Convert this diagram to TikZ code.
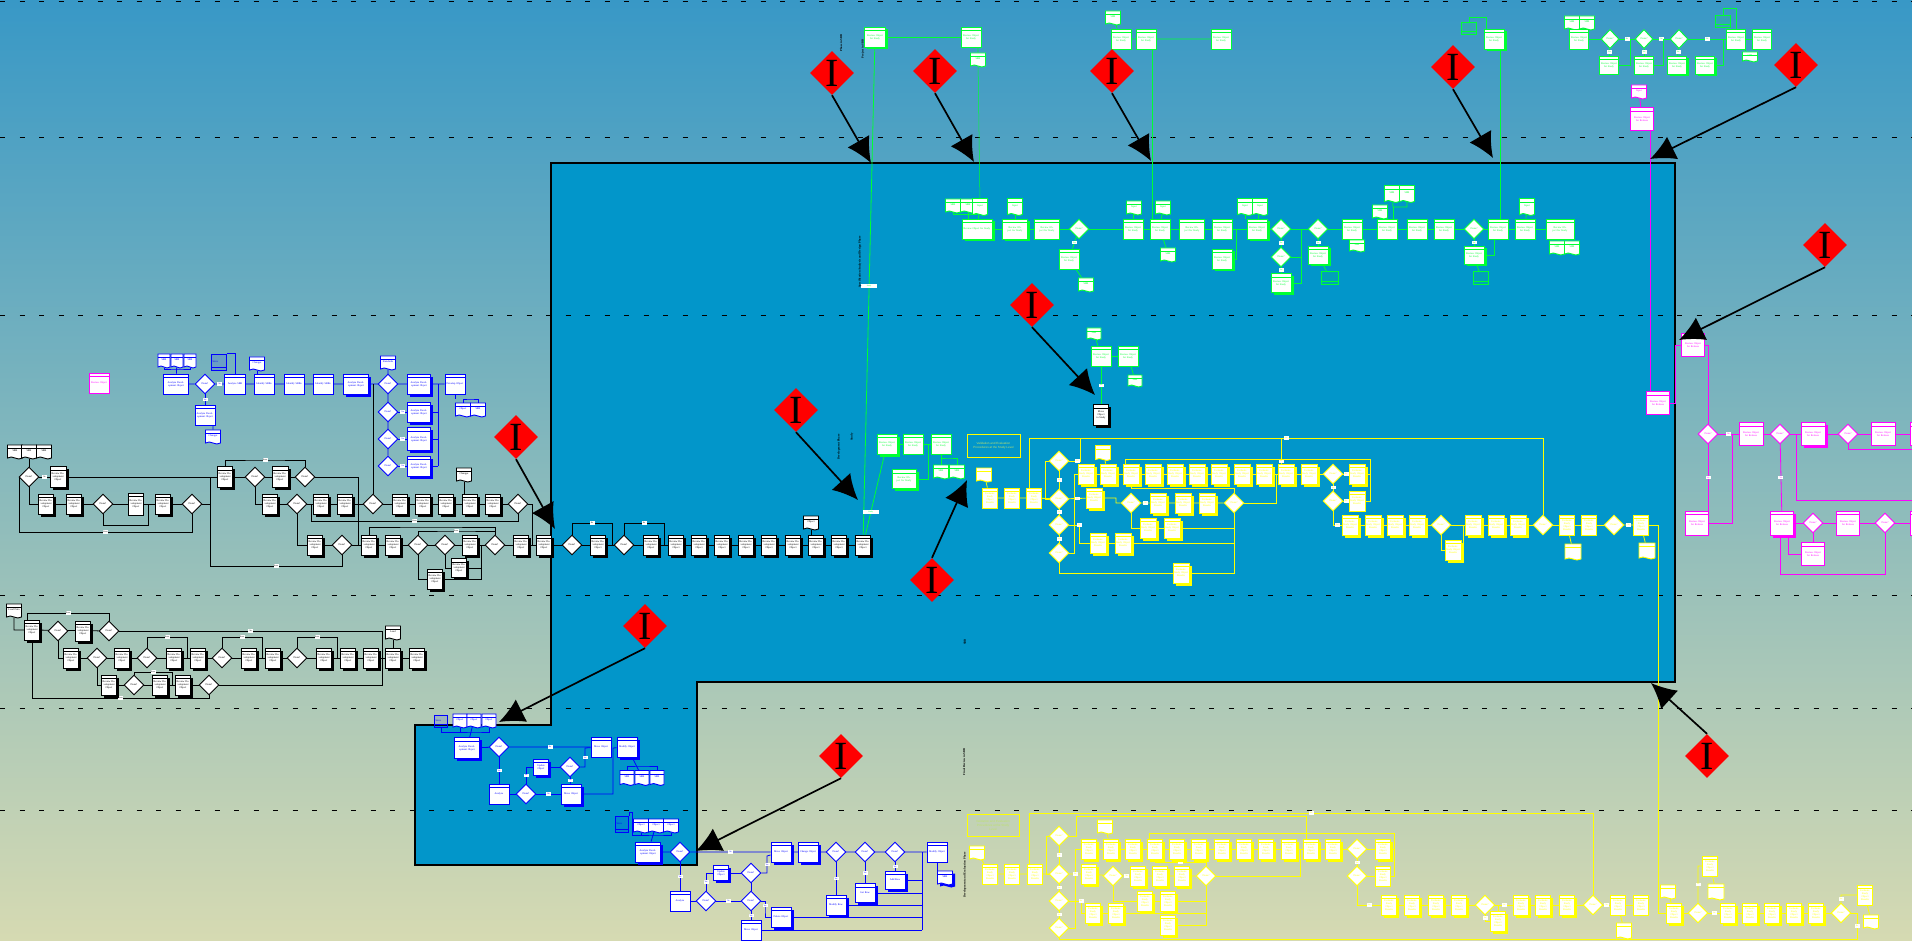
\documentclass[tikz,border=0pt]{standalone}
\usepackage{fontspec}
\setmainfont{Liberation Serif}
\newfontfamily\notefont{Liberation Sans}
\usetikzlibrary{calc, positioning, arrows.meta, shapes.geometric, shapes.symbols, shadows}
\pgfdeclarelayer{back}
\pgfdeclarelayer{wire}
\pgfsetlayers{back,wire,main}
\definecolor{stream}{RGB}{2,150,202}
\definecolor{skytop}{RGB}{56,152,198}
\definecolor{sandlow}{RGB}{214,218,178}
\definecolor{gflow}{RGB}{0,255,51}
\definecolor{yflow}{RGB}{255,255,0}
\definecolor{mflow}{RGB}{255,0,255}
\definecolor{bflow}{RGB}{0,0,255}
\newcommand{\smallf}{\fontsize{2.6}{3}\selectfont}
\newcommand{\kt}{Review Development Object}
\newcommand{\ut}{Analyze Development Object}
\newcommand{\gt}{Review Object for Study}
\newcommand{\yt}{Evaluate Study Object Results}
\newcommand{\pt}{Review Object for Release}
\tikzset{
  pb/.style={rectangle,draw=flow,fill=white,line width=.9pt,text=flow,font=\smallf,align=center,
    inner sep=.3pt,minimum width=15pt,text width=13pt,minimum height=20pt,
    path picture={\draw[flow,line width=.6pt] ([yshift=-3.5pt]path picture bounding box.north west) -- ([yshift=-3.5pt]path picture bounding box.north east);}},
  sz/.style 2 args={minimum width=#1pt,text width={#1pt-2pt},minimum height=#2pt},
  sdw/.style={general shadow={fill=flow,shadow xshift=2.5pt,shadow yshift=-2.5pt}},
  doc/.style={pb,shape=tape,tape bend top=none,tape bend bottom=out and in,tape bend height=2pt,minimum height=14pt},
  store/.style={rectangle,draw=flow,fill=flow,fill opacity=.1,text opacity=1,draw opacity=1,line width=.9pt,text=flow,font=\smallf,
    inner sep=.3pt,minimum width=14pt,minimum height=13pt,
    path picture={\draw[flow,opacity=1,line width=.7pt] ([yshift=3pt]path picture bounding box.south west) -- ([yshift=3pt]path picture bounding box.south east);}},
  dc/.style={diamond,draw=flow,fill=white,line width=.9pt,text=flow,font=\smallf,align=center,inner sep=0pt,aspect=1,minimum width=20pt,minimum height=20pt},
  tag/.style={fill=white,text=flow,inner sep=.3pt,font=\fontsize{2}{2.4}\selectfont,minimum width=5pt,minimum height=3.5pt},
  ln/.style={draw=flow,line width=.8pt},
  note/.style={rectangle,draw=yflow,line width=1pt,inner sep=0pt,text={rgb,255:red,190;green,225;blue,110},align=center,font=\notefont\fontsize{3}{4}\selectfont},
  warn/.style={diamond,fill=red,aspect=1,minimum width=44pt,minimum height=44pt,inner sep=0pt,font=\fontsize{40}{40}\selectfont},
  sidetxt/.style={rotate=90,font=\bfseries\fontsize{3}{3.4}\selectfont,inner sep=0pt},
  bigarrow/.style={line width=1.7pt,-{Latex[length=25pt,width=25pt]}},
}
\begin{document}
\begin{tikzpicture}[x=1pt,y=-1pt]
\useasboundingbox (0,0) rectangle (1912,941);
\begin{pgfonlayer}{back}
  \fill[top color=skytop,bottom color=sandlow] (0,0) rectangle (1912,941);
  \fill[stream,draw=black,line width=2pt] (551,163) -- (1675,163) -- (1675,682) -- (697,682) -- (697,865) -- (415,865) -- (415,725) -- (551,725) -- cycle;
  \foreach \y in {2,138,316,595,708,810}
    \draw[line width=1pt,dash pattern=on 5pt off 14.5pt] (0,\y) -- (1912,\y);
\end{pgfonlayer}

% pink loose box
\begin{scope}
\colorlet{flow}{mflow}
\node[pb,sz={20}{20}] (ploose) at (99,383) {Review Object};
\end{scope}

% blue, upper
\begin{scope}
\colorlet{flow}{bflow}
\foreach \x in {164,177,190} \node[doc,sz={12}{14}] (ud\x) at (\x,360) {SBB};
\node[pb,sz={25}{20}] (ua176) at (176,384) {\ut};
\node[dc] (ua205) at (205,384) {Done?};
\node[pb,sz={21}{20}] (ua235) at (235,384) {Analyze SBB};
\node[store,sz={15}{16}] (us219) at (219,362) {Store};
\node[doc,sz={15}{14}] (ud257) at (257,363) {Changes};
\foreach \x in {264,294,323} \node[pb,sz={20}{20}] (ua\x) at (\x,384) {Identify SBBs};
\node[pb,sdw,sz={25}{20}] (ua356) at (356,384) {\ut};
\node[dc] (ua388) at (388,384) {Done?};
\node[doc] (ud388) at (388,362) {Standards};
\node[dc] (uq412) at (388,412) {Done?};
\node[dc] (uq439) at (388,439) {Done?};
\node[dc] (uq466) at (388,466) {Done?};
\node[pb,sdw,sz={23}{20}] (ua419) at (419,384) {\ut};
\node[pb,sdw,sz={23}{20}] (ub412) at (419,412) {\ut};
\node[pb,sdw,sz={23}{23}] (ub439) at (419,439) {\ut};
\node[pb,sdw,sz={23}{20}] (ub466) at (419,466) {\ut};
\node[pb,sz={20}{20}] (ua455) at (455,384) {Develop Object};
\node[doc] (ud463) at (463,409) {Object};
\node[doc] (ud478) at (478,409) {SBB};
\node[pb,sz={20}{20}] (up205) at (205,415) {\ut};
\node[doc] (ud213) at (213,436) {Changes};
\coordinate (uj1) at (438,384);
\coordinate (uj2) at (438,466);
\coordinate (uj3) at (470,399);
\begin{pgfonlayer}{wire}
  \draw[ln] (ud177) -- (ua176) -- (ua205) -- node[tag]{No} (ua235) -- (ua455);
  \draw[ln] (ud164) |- ($(ud177)+(0,9)$) -| (ud190);
  \draw[ln] (us219.north east) -| (ua235);
  \draw[ln] (ua205) -- node[tag]{Yes} (up205);
  \draw[ln] (ud213) -- (ud213 |- up205.south);
  \draw[ln] (ud257) -- (ud257 |- ua264.north);
  \draw[ln] (ud388) -- (uq466);
  \draw[ln] (uq412) -- node[tag]{Yes} (ub412);
  \draw[ln] (uq439) -- node[tag]{Yes} (ub439);
  \draw[ln] (uq466) -- node[tag]{Yes} (ub466);
  \draw[ln] (uj1) -- (uj2);
  \draw[ln] (ub412) -- (ub412 -| uj1);
  \draw[ln] (ub439) -- (ub439 -| uj1);
  \draw[ln] (ub466) -- (uj2);
  \draw[ln] (ua455) -- (ua455 |- uj3);
  \draw[ln] (ud463) |- (uj3) -| (ud478);
\end{pgfonlayer}
\end{scope}

% black, upper block and long row
\begin{scope}
\colorlet{flow}{black}
\foreach \x in {15,29,44} \node[doc] (kd\x) at (\x,451) {SBB};
\node[dc] (ka29) at (29,477) {Done?};
\node[pb,sdw,sz={16}{21}] (ka58) at (58,477) {\kt};
\node[pb,sdw,sz={15}{21}] (ka225) at (225,477) {\kt};
\node[dc] (ka255) at (255,477) {Done?};
\node[pb,sdw,sz={16}{21}] (ka280) at (280,477) {\kt};
\node[dc] (ka305) at (305,477) {Done?};
\foreach \x in {46,74,163,270,321,345,400,423,446,470,493} \node[pb,sdw] (kb\x) at (\x,504) {\kt};
\node[pb,sz={15}{22}] (kb136) at (136,504) {\kt};
\foreach \x in {103,192,297,373,518} \node[dc] (kb\x) at (\x,504) {Done?};
\foreach \x in {315,369,393,470,521,544,598,651,676,699,722,746,769,793,816,839,863} \node[pb,sdw] (kc\x) at (\x,545) {\kt};
\foreach \x in {342,418,445,495,572,624} \node[dc] (kc\x) at (\x,545) {Done?};
\node[pb,sdw,sz={15}{19}] (kn459) at (459,568) {\kt};
\node[pb,sdw] (kn435) at (435,579) {\kt};
\node[doc] (kt464) at (464,474) {Changes};
\node[doc] (kt811) at (811,522) {Object};
\node[pb,sdw,sz={15}{21}] (kz1101) at (1101,415) {Move Object to Study};
\coordinate (kj1) at (210,566);
\coordinate (kj2) at (19,532);
\coordinate (kj3) at (148,525);
\coordinate (kj4) at (265,460);
\coordinate (kj5) at (358,545);
\coordinate (kj6) at (532,545);
\coordinate (kj7) at (311,521);
\coordinate (kj8) at (430,527);
\coordinate (kj9) at (456,531);
\coordinate (kj10) at (481,579);
\coordinate (kj11) at (612,523);
\coordinate (kj12) at (664,523);
\begin{pgfonlayer}{wire}
  \draw[ln] (kd29) -- (ka29) -- node[tag]{No} (ka58) -- (ka225) -- (ka255) -- (ka280) -- (ka305);
  \draw[ln] (ka29) |- (kb46) -- (kb192);
  \draw[ln] (ka225) -| (kj1) -| node[tag,pos=.25]{Done} (kc342);
  \draw[ln] (kb192) -- (kb192 -| kj1);
  \draw[ln] (ka29) -| (kj2) -| node[tag,pos=.25]{Done} (kb192);
  \draw[ln] (kb103) |- (kj3) -- (kj3 |- kb136);
  \draw[ln] (ka225) |- (kj4) node[tag]{Done} -| (ka305);
  \draw[ln] (ka255) |- (kb270) -- (kb518);
  \draw[ln] (kb297) |- (kc315) -- (kc863);
  \draw[ln] (ka305) -| (kj5);
  \draw[ln] (kb518) -| (kj6);
  \draw[ln] (kb518) |- node[tag,pos=.75]{Done} (kj7) -- (kj7 |- kb321);
  \draw[ln] (kc369) |- (kj8) -| (kc495);
  \draw[ln] (kc418) |- (kj9) node[tag]{Done} -| (kc495);
  \draw[ln] (kc418) |- (kn435);
  \draw[ln] (kc445) |- (kn459);
  \draw[ln] (kn435) -- (kj10) -- (kj10 |- kc470);
  \draw[ln] (kn459) -- (kn459 -| kj10);
  \draw[ln] (kt464) -- (kt464 |- kb470.north);
  \draw[ln] (kt811) -- (kt811 |- kc816.north);
  \draw[ln] (kc572) |- node[tag,pos=.75]{No} (kj11) -- (kj11 |- kc598);
  \draw[ln] (kc624) |- node[tag,pos=.75]{No} (kj12) -- (kj12 |- kc651);
  \draw[ln] (kb373) -- (kb373 |- ua356);
\end{pgfonlayer}
\end{scope}

% black, lower block
\begin{scope}
\colorlet{flow}{black}
\node[doc] (md14) at (14,610) {Load Data};
\node[pb,sdw] (ma32) at (32,630) {\kt};
\node[dc] (ma58) at (58,631) {Done?};
\node[pb,sdw] (ma83) at (83,631) {\kt};
\node[dc] (ma109) at (109,631) {Done?};
\foreach \x in {71,122,174,198,249,273,324,348,371,393,417} \node[pb,sdw] (mb\x) at (\x,658) {\kt};
\foreach \x in {97,147,222,297} \node[dc] (mb\x) at (\x,658) {Done?};
\node[doc] (md393) at (393,632) {Load};
\foreach \x in {109,160,183} \node[pb,sdw] (mc\x) at (\x,685) {\kt};
\foreach \x in {134,209} \node[dc] (mc\x) at (\x,685) {Done?};
\coordinate (mj1) at (382,685);
\coordinate (mj2) at (27,613);
\coordinate (mj3) at (187,637);
\coordinate (mj4) at (262,637);
\coordinate (mj5) at (337,637);
\coordinate (mj6) at (172,672);
\coordinate (mj7) at (32,698);
\begin{pgfonlayer}{wire}
  \draw[ln] (md14) |- (ma32) -- (ma109);
  \draw[ln] (mj2) -- (mj2 |- ma32);
  \draw[ln] (mj2) -| node[tag,pos=.25]{Done} (ma109);
  \draw[ln] (ma109) -| node[tag,pos=.25]{No} (mj1) -- (mc209);
  \draw[ln] (ma58) |- (mb71) -- (mb417);
  \draw[ln] (mb97) |- (mc109) -- (mc209);
  \draw[ln] (mb147) |- node[tag,pos=.75]{Done} (mj3) -- (mj3 |- mb174);
  \draw[ln] (mb222) |- node[tag,pos=.75]{Done} (mj4) -- (mj4 |- mb249);
  \draw[ln] (mb297) |- node[tag,pos=.75]{Done} (mj5) -- (mj5 |- mb324);
  \draw[ln] (mc134) |- node[tag,pos=.75]{Done} (mj6) -- (mj6 |- mc160);
  \draw[ln] (ma32) -- (mj7) -| node[tag,pos=.25]{Done} (mc209);
  \draw[ln] (md393) -- (mb393);
\end{pgfonlayer}
\end{scope}

% blue, lower blocks
\begin{scope}
\colorlet{flow}{bflow}
\node[store,sz={13}{12}] (vs441) at (441,721) {Store};
\foreach \x in {460,474,489} \node[doc,sz={14}{14}] (vd\x) at (\x,720) {Object};
\node[pb,sdw,sz={25}{21}] (va467) at (467,748) {\ut};
\node[dc] (va499) at (499,747) {Done?};
\node[pb,sz={20}{20}] (va601) at (601,747) {Move Object};
\node[pb,sdw,sz={20}{20}] (va627) at (627,747) {Modify Object};
\node[pb,sz={20}{20}] (vb499) at (499,794) {Analyze};
\node[dc] (vb526) at (526,794) {Done?};
\node[pb,sdw,sz={20}{20}] (vb571) at (571,794) {Move Object};
\node[pb,sdw,sz={15}{16}] (vc541) at (541,767) {Update Object};
\node[dc] (vc570) at (570,767) {Done?};
\foreach \x in {627,642,657} \node[doc,sz={14}{15}] (vd\x) at (\x,777) {SBB};
\node[store,sz={13}{16}] (ws622) at (622,824) {Store};
\foreach \x in {641,656,671} \node[doc] (wd\x) at (\x,825) {Object};
\node[pb,sdw,sz={25}{20}] (wa648) at (648,852) {\ut};
\node[dc] (wa680) at (680,852) {Done?};
\node[pb,sdw,sz={20}{20}] (wa781) at (781,852) {Move Object};
\node[pb,sdw,sz={20}{20}] (wa808) at (808,852) {Change Object};
\foreach \x in {836,865,895} \node[dc] (wa\x) at (\x,852) {Done?};
\node[pb,sz={20}{20}] (wa937) at (937,852) {Modify Object};
\node[doc,sdw] (wd945) at (945,877) {SBB};
\node[pb,sz={20}{20}] (wb680) at (680,901) {Analyze};
\node[dc] (wb706) at (706,901) {Done?};
\node[dc] (wb751) at (751,901) {Done?};
\node[pb,sdw,sz={15}{15}] (wc721) at (721,873) {Update Object};
\node[dc] (wc751) at (751,873) {Done?};
\node[pb,sz={20}{20}] (wd751) at (751,930) {Move Object};
\node[pb,sdw,sz={20}{20}] (we781) at (781,917) {Delete Object};
\node[pb,sdw,sz={20}{20}] (we836) at (836,905) {Modify Row};
\node[pb,sdw,sz={20}{19}] (we865) at (865,893) {Get Row};
\node[pb,sdw,sz={20}{18}] (we895) at (895,880) {Add Row};
\coordinate (vj1) at (585,748);
\coordinate (vj2) at (613,748);
\coordinate (wj1) at (922,852);
\coordinate (wj2) at (922,930);
\coordinate (wj3) at (767,856);
\coordinate (wj4) at (765,910);
\begin{pgfonlayer}{wire}
  \draw[ln] (vd474) -- (va467) -- (va499) -- node[tag]{No} (va601);
  \draw[ln] (vd460) |- ($(vd474)+(0,12)$) -| (vd489);
  \draw[ln] (vs441) |- ($(vd460)+(0,12)$);
  \draw[ln] (va499) -- node[tag]{Yes} (vb499) -- (vb526) -- node[tag]{No} (vb571);
  \draw[ln] (vb526) |- node[tag,pos=.25]{Yes} (vc541) -- (vc570);
  \draw[ln] (vc570) -- node[tag]{No} (vb571);
  \draw[ln] (vc570) -| node[tag,pos=.75]{Yes} (vj1) -- (va601);
  \draw[ln] (vb571) -| (vj2) -- (va627);
  \draw[ln] (va627) -- (vd642);
  \draw[ln] (vd627) |- ($(vd642)+(0,-11)$) -| (vd657);
  \draw[ln] (wd656) -- (wa648) -- (wa680) -- node[tag]{No} (wa781) -- (wa937);
  \draw[ln] (wd641) |- ($(wd656)+(0,10)$) -| (wd671);
  \draw[ln] (ws622.north east) |- ($(ws622)+(10,-12)$) |- ($(wd641)+(0,10)$);
  \draw[ln] (wa680) -- node[tag]{Yes} (wb680) -- (wb706) -- node[tag]{No} (wb751);
  \draw[ln] (wb706) |- node[tag,pos=.25]{Yes} (wc721) -- (wc751);
  \draw[ln] (wc751) -- (wb751) -- node[tag]{Yes} (wd751);
  \draw[ln] (wc751) -| node[tag,pos=.75]{Yes} (wj3) -- (wa781);
  \draw[ln] (wb751) -| node[tag,pos=.75]{Yes} (wj4) |- (we781);
  \draw[ln] (wa836) -- node[tag]{Yes} (we836);
  \draw[ln] (wa865) -- node[tag]{Yes} (we865);
  \draw[ln] (wa895) -- node[tag]{Yes} (we895);
  \draw[ln] (wj1) -- (wj2);
  \draw[ln] (we781) -- (we781 -| wj1);
  \draw[ln] (we836) -- (we836 -| wj1);
  \draw[ln] (we865) -- (we865 -| wj1);
  \draw[ln] (we895) -- (we895 -| wj1);
  \draw[ln] (wd751) -- (wj2);
  \draw[ln] (wa937) -- (wa937 |- wd945.north);
\end{pgfonlayer}
\end{scope}

% green
\begin{scope}
\colorlet{flow}{gflow}
\node[pb,sdw,sz={21}{20}] (ga875) at (875,37) {\gt};
\node[pb,sz={20}{20}] (ga971) at (971,37) {\gt};
\node[doc] (gd978) at (978,59) {SBB};
\node[doc] (gd1113) at (1113,17) {SBB};
\foreach \x in {1121,1146,1221} \node[pb,sz={20}{20}] (ga\x) at (\x,39) {\gt};
\node[store,sz={15}{12}] (gs1469) at (1469,28) {};
\node[pb,sdw,sz={20}{20}] (ga1494) at (1494,39) {\gt};
\foreach \x in {1572,1587} \node[doc] (gt\x) at (\x,22) {SBB};
\node[pb,sz={19}{20}] (ga1579) at (1579,39) {\gt};
\foreach \x in {1610,1644,1679} \node[dc,sz={18}{19}] (ga\x) at (\x,39) {Done?};
\node[store,sz={15}{12}] (gs1723) at (1723,21) {};
\foreach \x in {1736,1762} \node[pb,sz={19}{20}] (ga\x) at (\x,39) {\gt};
\node[doc,sz={15}{10}] (gd1750) at (1750,56) {SBB};
\foreach \x in {1609,1644} \node[pb,sz={19}{18}] (gb\x) at (\x,65) {\gt};
\foreach \x in {1677,1705} \node[pb,sdw,sz={19}{18}] (gb\x) at (\x,65) {\gt};
% mid row
\foreach \x in {953,968} \node[doc] (gd\x) at (\x,205) {SBB};
\foreach \x in {980,1015,1245,1260,1527} \node[doc,sz={15}{17}] (gd\x) at (\x,206) {Input};
\foreach \x in {1134,1163} \node[doc] (gd\x) at (\x,207) {Input};
\node[pb,sdw,sz={30}{20}] (gc977) at (977,229) {\gt};
\node[pb,sdw,sz={25}{20}] (gc1015) at (1015,229) {\gt};
\node[pb,sz={25}{20}] (gc1047) at (1047,229) {\gt};
\node[dc] (gc1079) at (1079,229) {Done?};
\node[pb,sz={20}{20}] (ge1069) at (1069,259) {\gt};
\node[doc] (gd1086) at (1086,284) {SBB};
\foreach \x in {1133,1160,1222} \node[pb,sz={20}{20}] (gc\x) at (\x,229) {\gt};
\node[doc] (gd1168) at (1168,254) {SBB};
\node[pb,sz={25}{20}] (gc1192) at (1192,229) {\gt};
\node[pb,sdw,sz={20}{20}] (ge1222) at (1222,259) {\gt};
\node[pb,sdw,sz={20}{20}] (gc1257) at (1257,229) {\gt};
\node[dc] (gc1281) at (1281,229) {Done?};
\node[dc] (ge1281) at (1281,257) {Done?};
\node[pb,sdw,sz={20}{19}] (gf1281) at (1281,283) {\gt};
\node[dc] (gc1318) at (1318,229) {Done?};
\node[pb,sdw,sz={20}{18}] (ge1318) at (1318,255) {\gt};
\node[store,sz={17}{13}] (gs1330) at (1330,278) {};
\node[pb,sz={20}{20}] (gc1352) at (1352,229) {\gt};
\node[doc,sz={15}{12}] (gd1357) at (1357,245) {SBB};
\foreach \x in {1387,1417,1444,1498,1525} \node[pb,sz={20}{20}] (gc\x) at (\x,229) {\gt};
\node[dc] (gc1474) at (1474,229) {Done?};
\node[pb,sdw,sz={20}{18}] (ge1474) at (1474,255) {\gt};
\node[store,sz={15}{13}] (gs1481) at (1481,278) {};
\node[pb,sz={28}{20}] (gc1560) at (1560,229) {\gt};
\foreach \x in {1392,1407} \node[doc,sz={15}{17}] (gd\x) at (\x,193) {SBB};
\node[doc] (gd1380) at (1380,211) {SBB};
\foreach \x in {1557,1572} \node[doc] (gd\x) at (\x,247) {SBB};
% lower blue field
\node[pb,sdw,sz={20}{20}] (gh887) at (887,444) {\gt};
\node[pb,sz={20}{20}] (gh913) at (913,444) {\gt};
\node[pb,sz={20}{20}] (gh941) at (941,444) {\gt};
\node[pb,sdw,sz={24}{19}] (gh904) at (904,479) {\gt};
\foreach \x in {941,957} \node[doc] (gd\x) at (\x,471) {SBB};
% field group near I
\node[doc,sz={14}{12}] (gd1094) at (1094,333) {SBB};
\node[pb,sz={20}{20}] (gk1101) at (1101,356) {\gt};
\node[pb,sz={20}{20}] (gk1128) at (1128,356) {\gt};
\node[doc,sz={14}{12}] (gd1135) at (1135,380) {SBB};
\coordinate (gj1) at (1301,229);
\coordinate (gj2) at (1236,229);
\coordinate (gj3) at (1494,229);
\coordinate (gj4) at (1393,207);
\coordinate (gj5) at (928,444);
\coordinate (gj6) at (949,458);
\coordinate (gj7) at (1486,17);
\coordinate (gj8) at (1736,8);
\coordinate (gj9) at (1630,65);
\coordinate (gj10) at (1663,65);
\coordinate (gj11) at (1723,65);
\coordinate (gj12) at (1152,39);
\coordinate (gj13) at (1500,39);
\begin{pgfonlayer}{wire}
  \draw[ln] (ga875) -- (ga971);
  \draw[ln] (gd978) -- (gd978 |- ga971.south);
  \draw[ln] (ga875) -- node[tag,pos=.49,minimum width=16pt]{Study} (kc863);
  \draw[ln] (gh887) -- node[tag,pos=.72,minimum width=16pt]{Study} (kc863);
  \draw[ln,line width=.5pt] (gd978) -- (gd980);
  \draw[ln] (gd1113) -- (ga1121) -- (ga1221);
  \draw[ln,line width=.5pt] (gj12) -- (gj12 |- gc1160);
  \draw[ln,line width=.5pt] (gj13) -- (gj13 |- gc1498);
  \draw[ln] (gs1469) |- (gj7) -- (ga1494.north -| gj7);
  \draw[ln] (gt1572) -- (ga1579);
  \draw[ln] (ga1579) -- (ga1610) -- node[tag]{No} (ga1644) -- node[tag]{No} (ga1679) -- node[tag]{No} (ga1736) -- (ga1762);
  \draw[ln] (ga1610) -- node[tag]{Yes} (gb1609);
  \draw[ln] (ga1644) -- node[tag]{Yes} (gb1644);
  \draw[ln] (ga1679) -- node[tag]{Yes} (gb1677);
  \draw[ln] (gb1609) -- (gj9) -- (gj9 |- ga1610);
  \draw[ln] (gb1644) -- (gj10) -- (gj10 |- ga1610);
  \draw[ln] (gb1705) -- (gj11) -- (gj11 |- ga1610);
  \draw[ln] (gs1723) |- (gj8) -| (ga1736);
  \draw[ln] (ga1736) -- (gd1750);
  \draw[ln] (gc977) -- (gc1560);
  \draw[ln] (gd953) |- ($(gc977)+(0,-15)$);
  \draw[ln] (gd968) -- (gd968 |- gc977.north);
  \draw[ln] (gd980) -- (gc977);
  \draw[ln] (gd1015) -- (gc1015);
  \draw[ln] (gc1079) -- node[tag]{Yes} (ge1069) -- (gd1086);
  \draw[ln] (gd1134) -- (gc1133);
  \draw[ln] (gd1163) -- (gc1160) -- (gd1168);
  \draw[ln] (ge1222) -| (gj2);
  \draw[ln] (gd1245) -- (gd1245 |- gc1257.north);
  \draw[ln] (gd1260) -- (gc1257);
  \draw[ln] (gc1281) -- node[tag]{Yes} (ge1281) -- node[tag]{Yes} (gf1281);
  \draw[ln] (ge1281) -- (ge1281 -| gj1);
  \draw[ln] (gf1281) -| (gj1);
  \draw[ln] (gc1318) -- node[tag]{Yes} (ge1318);
  \draw[ln] (ge1318) -- (gs1330);
  \draw[ln] (gc1352) -- (gd1357);
  \draw[ln] (gd1392) -- (gj4) -- (gj4 -| gd1407) -- (gd1407);
  \draw[ln] (gj4) -- (gj4 |- gc1387.north);
  \draw[ln] (gd1380) -- (gc1387);
  \draw[ln] (gc1474) -- node[tag]{Yes} (ge1474);
  \draw[ln] (ge1474) -| (gj3);
  \draw[ln] (ge1474) -- (gs1481);
  \draw[ln] (gc1525) -- (gd1527);
  \draw[ln] (gc1560) -- (gd1557);
  \draw[ln] (gc1560) -- (gd1572);
  \draw[ln] (gh887) -- (gh941);
  \draw[ln] (gh904) -| (gj5);
  \draw[ln] (gh941) -- (gh941 |- gj6);
  \draw[ln] (gd941) |- (gj6) -| (gd957);
  \draw[ln] (gd1094) -- (gk1101);
  \draw[ln] (gk1101) -- (gk1128);
  \draw[ln] (gk1128) -- (gd1135);
  \draw[ln] (gk1101) -- node[tag]{Yes} (kz1101);
\end{pgfonlayer}
\end{scope}

% yellow, in the field
\begin{scope}
\colorlet{flow}{yflow}
\node[note,minimum width=53pt,minimum height=23pt] (yn1) at (993.5,445.5) {Validation and Evaluation\\Procedures at the Study Level};
\node[doc] (yd984) at (984,474) {};
\foreach \x in {990,1012,1034} \node[pb] (yb\x) at (\x,498) {\yt};
\foreach \y in {461,499,525,553} \node[dc] (yq\y) at (1059,\y) {Done?};
\foreach \x in {1086,1108,1131,1153,1175,1197,1219,1242,1264,1286,1309} \node[pb,sdw,sz={16}{20}] (ya\x) at (\x,474) {\yt};
\node[dc] (ya1333) at (1333,474) {Done?};
\node[dc] (yc1333) at (1333,501) {Done?};
\node[pb,sdw,sz={16}{20}] (ya1357) at (1357,474) {\yt};
\node[pb,sz={16}{20}] (yc1357) at (1357,501) {\yt};
\node[doc,sz={15}{15}] (yd1103) at (1103,452) {};
\node[pb,sdw,sz={16}{20}] (yc1094) at (1094,498) {\yt};
\node[dc] (yc1131) at (1131,503) {Done?};
\foreach \x in {1158,1183,1207} \node[pb,sdw,sz={16}{20}] (yc\x) at (\x,503) {\yt};
\node[dc] (yc1234) at (1234,503) {Done?};
\foreach \x in {1148,1172} \node[pb,sdw,sz={16}{20}] (ye\x) at (\x,528) {\yt};
\foreach \x in {1098,1123} \node[pb,sdw,sz={16}{20}] (yf\x) at (\x,543) {\yt};
\node[pb,sdw,sz={16}{20}] (yg1181) at (1181,573) {\yt};
\foreach \x in {1350,1373,1395,1417,1473,1496,1518} \node[pb,sdw,sz={16}{20}] (yh\x) at (\x,525) {\yt};
\foreach \x in {1441,1543,1614} \node[dc] (yh\x) at (\x,525) {Done?};
\foreach \x in {1567,1589,1641} \node[pb,sz={15}{20}] (yh\x) at (\x,525) {\yt};
\node[pb,sdw,sz={16}{20}] (yi1453) at (1453,550) {\yt};
\node[doc,sz={16}{16}] (yd1573) at (1573,551) {};
\node[doc,sz={16}{16}] (yd1647) at (1647,550) {};
\coordinate (yj1) at (1029,438);
\coordinate (yj2) at (1543,438);
\coordinate (yj3) at (1080,438);
\coordinate (yj4) at (1281,438);
\coordinate (yj5) at (1125,459);
\coordinate (yj6) at (1370,459);
\coordinate (yj7) at (1045,461);
\coordinate (yj8) at (1074,553);
\coordinate (yj9) at (1276,503);
\coordinate (yj10) at (1079,525);
\coordinate (yj11) at (1234,488);
\coordinate (yj12) at (1463,540);
\coordinate (yj13) at (1658,525);
\begin{pgfonlayer}{wire}
  \draw[ln] (yd984) -- (yb990) -- (yb1034);
  \draw[ln] (yb1034) -- (yq499);
  \draw[ln] (yj1 |- yb1034.north) -- (yj1);
  \draw[ln] (yj1) -- node[tag,pos=.5]{Yes} (yj2) -- (yh1543);
  \draw[ln] (yq461) -| (yj7) |- (yq499);
  \draw[ln] (yq461) -- node[tag,pos=.75]{No} (yq461 -| yj3) -- (yj3);
  \draw[ln] (yq461) -- node[tag]{Yes} (yq499) -- node[tag]{Yes} (yq525) -- node[tag]{Yes} (yq553);
  \draw[ln] (yj4) -- node[tag,pos=.9]{No} (yj4 |- ya1286.north);
  \draw[ln] (yq553) -| (yj8 |- ya1086) -- (ya1086) -- (yc1357 |- ya1086);
  \draw[ln] (ya1333) -- node[tag]{No} (ya1357);
  \draw[ln] (yc1333) -- node[tag]{No} (yc1357) -| (yj6) -- (yj5) -- (yj5 |- ya1131.north);
  \draw[ln] (ya1357) -| (yj6);
  \draw[ln] (yd1103) -- (ya1108);
  \draw[ln] (ya1333) -- node[tag]{Yes} (yc1333);
  \draw[ln] (yc1333) |- node[tag,pos=.75]{Yes} (yh1350) -- (yh1614);
  \draw[ln] (yq499) -- node[tag]{No} (yc1094) -| ($(yc1131)+(-15,0)$) -- (yc1131) -- node[tag]{No} (yc1158) -- (yc1234);
  \draw[ln] (yc1234) -| (yj9) -- (yj9 |- ya1086);
  \draw[ln] (ya1131.south) |- (yj11) -- (yc1234);
  \draw[ln] (yc1131) |- (ye1148) -- (ye1172) -- (ye1172 -| yc1234);
  \draw[ln] (yq525) -| node[tag,pos=.7]{No} (yj10) |- (yf1098) -- (yf1123) -- (yf1123 -| yc1234);
  \draw[ln] (yq553) |- (yg1181);
  \draw[ln] (yg1181) -| (yc1234);
  \draw[ln] (yh1441) |- (yi1453);
  \draw[ln] (yi1453) -| (yj12 |- yh1473) -- (yh1473);
  \draw[ln] (yh1567) -- (yd1573);
  \draw[ln] (yh1614) -- node[tag]{No} (yh1641) -- (yd1647);
  \draw[ln] (yh1641) -- (yj13);
\end{pgfonlayer}
\end{scope}

% yellow, lower
\begin{scope}
\colorlet{flow}{yflow}
\node[note,minimum width=52pt,minimum height=22pt] (zn1) at (993,825) {Validation and Evaluation\\Procedures at the Study\\Level};
\node[doc] (zd977) at (977,852) {};
\foreach \x in {990,1012,1035} \node[pb] (zb\x) at (\x,874) {\yt};
\foreach \y in {836,874,901,928} \node[dc] (zq\y) at (1059,\y) {Done?};
\foreach \x in {1089,1111,1133,1155,1177,1199,1222,1244,1266,1289,1311,1333} \node[pb,sdw] (za\x) at (\x,849) {\yt};
\node[dc] (za1357) at (1357,849) {Done?};
\node[dc] (zc1357) at (1357,876) {Done?};
\node[pb,sdw] (za1383) at (1383,849) {\yt};
\node[pb] (zc1383) at (1383,876) {\yt};
\node[doc] (zd1105) at (1105,826) {};
\node[pb,sdw] (zc1089) at (1089,874) {\yt};
\node[dc] (zc1113) at (1113,876) {Done?};
\foreach \x in {1138,1160,1182} \node[pb,sdw] (zc\x) at (\x,876) {\yt};
\node[dc] (zc1206) at (1206,876) {Done?};
\foreach \x in {1145,1168} \node[pb,sdw] (ze\x) at (\x,901) {\yt};
\foreach \x in {1093,1116} \node[pb,sdw] (zf\x) at (\x,913) {\yt};
\node[pb,sdw] (zg1168) at (1168,925) {\yt};
\foreach \x in {1389,1412,1436,1459,1521,1543,1567} \node[pb,sdw] (zh\x) at (\x,905) {\yt};
\foreach \x in {1485,1593} \node[dc] (zh\x) at (\x,905) {Done?};
\foreach \x in {1618,1641} \node[pb] (zh\x) at (\x,905) {\yt};
\node[doc,sz={15}{16}] (zd1624) at (1624,930) {};
\node[pb,sdw] (zi1498) at (1498,921) {\yt};
\node[pb,sdw] (zk1674) at (1674,913) {\yt};
\node[dc] (zk1698) at (1698,913) {Done?};
\node[doc] (zd1668) at (1668,891) {};
\node[pb] (zm1710) at (1710,866) {\yt};
\node[doc,sz={16}{16}] (zd1716) at (1716,891) {};
\foreach \x in {1728,1750,1772,1794,1816} \node[pb,sdw] (zk\x) at (\x,913) {\yt};
\node[dc] (zk1841) at (1841,913) {Done?};
\node[pb] (zm1865) at (1865,895) {\yt};
\node[doc] (zd1871) at (1871,921) {};
\coordinate (zj1) at (1029,813);
\coordinate (zj2) at (1593,813);
\coordinate (zj3) at (1076,816);
\coordinate (zj4) at (1306,816);
\coordinate (zj5) at (1149,833);
\coordinate (zj6) at (1394,833);
\coordinate (zj7) at (1046,836);
\coordinate (zj8) at (1075,928);
\coordinate (zj9) at (1300,876);
\coordinate (zj10) at (1081,901);
\coordinate (zj11) at (1206,862);
\coordinate (zj12) at (1059,939);
\coordinate (zj13) at (1857,939);
\coordinate (zj14) at (1658,913);
\begin{pgfonlayer}{wire}
  \draw[ln] (zd977) -- (zb990) -- (zb1035) -- (zq874);
  \draw[ln] (zj1 |- zb1035.north) -- (zj1) -- node[tag]{Yes} (zj2) -- (zh1593);
  \draw[ln] (zq836) -| (zj3) -- (zj4) -- (zj4 |- za1289.north);
  \draw[ln] (zq836) -| (zj7) |- (zq874);
  \draw[ln] (zq836) -- node[tag]{Yes} (zq874) -- node[tag]{Yes} (zq901) -- node[tag]{Yes} (zq928);
  \draw[ln] (zq928) -| (zj8) -- (zj8 |- za1089);
  \draw[ln] (zj8 |- za1089) -- (za1383);
  \draw[ln] (zj5 |- za1155.north) -- (zj5) -- (zj6) |- (zc1383);
  \draw[ln] (za1383) -| (zj6);
  \draw[ln] (zc1357) -- (zc1383);
  \draw[ln] (za1357) -- node[tag]{Yes} (zc1357);
  \draw[ln] (zd1105) -- (za1111);
  \draw[ln] (zq874) -- node[tag]{No} (zc1089) -- (zc1113) -- node[tag]{No} (zc1138) -- (zc1206);
  \draw[ln] (zc1206) -| (zj9) -- (zj9 |- za1089);
  \draw[ln] (za1155) |- node[tag,pos=.75]{No} (zj11) -- (zc1206);
  \draw[ln] (zc1113) |- (ze1145) -- (ze1168) -- (ze1168 -| zc1206);
  \draw[ln] (zq901) -| node[tag,pos=.7]{No} (zj10) |- (zf1093) -- (zf1116) -- (zf1116 -| zc1206);
  \draw[ln] (zg1168) -| (zc1206);
  \draw[ln] (zc1357) |- node[tag,pos=.75]{Yes} (zh1389) -- (zh1485) -- node[tag]{No} (zh1521) -- (zh1593) -- node[tag]{No} (zh1618) -- (zh1641);
  \draw[ln] (zh1485) |- node[tag,pos=.25]{Yes} (zi1498);
  \draw[ln] (zi1498) -- (zi1498 |- zh1521);
  \draw[ln] (zh1618) -- (zd1624);
  \draw[ln] (zq928) -- (zj12) -- (zj13) -- node[tag,pos=.5]{No} (zj13 |- zk1841);
  \draw[ln] (zj13 |- zk1841) -- (zk1841);
  \draw[ln] (zj14) -- (zk1674) -- (zk1698) -- node[tag]{No} (zk1728) -- (zk1841);
  \draw[ln] (zd1668) -- (zk1674);
  \draw[ln] (zk1698) |- node[tag,pos=.25]{Yes} (zm1710) -- (zd1716);
  \draw[ln] (zk1841) |- node[tag,pos=.25]{Yes} (zm1865) -- (zd1871);
  \draw[ln] (yj13) -- (zj14);
\end{pgfonlayer}
\end{scope}

% magenta
\begin{scope}
\colorlet{flow}{mflow}
\node[doc] (pd1639) at (1639,91) {Input};
\node[pb,sz={23}{23}] (pa1642) at (1642,119) {\pt};
\node[pb,sz={23}{23}] (pb1658) at (1658,403) {\pt};
\node[pb,sz={23}{23}] (pb1693) at (1693,345) {\pt};
\foreach \x in {1708,1780,1848} \node[dc] (pc\x) at (\x,434) {Done?};
\foreach \x in {1751,1883} \node[pb,sz={24}{23}] (pc\x) at (\x,434) {\pt};
\node[pb,sdw,sz={24}{23}] (pc1813) at (1813,434) {\pt};
\node[pb,sz={24}{23}] (pc1922) at (1922,434) {\pt};
\node[pb,sz={23}{24}] (pe1697) at (1697,523) {\pt};
\node[pb,sdw,sz={23}{24}] (pe1782) at (1782,523) {\pt};
\foreach \x in {1813,1885} \node[dc] (pe\x) at (\x,523) {Done?};
\node[pb,sz={23}{24}] (pe1848) at (1848,523) {\pt};
\node[pb,sz={23}{24}] (pe1922) at (1922,523) {\pt};
\node[pb,sz={23}{23}] (pf1813) at (1813,554) {\pt};
\coordinate (pj1) at (1650,392);
\coordinate (pj2) at (1675,403);
\coordinate (pj3) at (1732,523);
\coordinate (pj4) at (1796,500);
\coordinate (pj5) at (1912,500);
\coordinate (pj6) at (1912,449);
\coordinate (pj7) at (1780,574);
\coordinate (pj8) at (1788,554);
\begin{pgfonlayer}{wire}
  \draw[ln] (pd1639) -- (pa1642);
  \draw[ln] (pa1642) -- (pj1 |- pa1642.south) -- (pj1);
  \draw[ln] (pb1658) -- (pj2) |- (pb1693);
  \draw[ln] (pb1693) -| (pc1708);
  \draw[ln] (pc1708) -- node[tag,pos=.5]{Yes} (pc1708 |- pe1697.north);
  \draw[ln] (pe1697) -| (pj3) -- (pj3 |- pc1708);
  \draw[ln] (pc1708) -- node[tag]{No} (pc1751) -- (pc1922);
  \draw[ln] (pc1780) -- node[tag]{Yes} (pe1782);
  \draw[ln] (pc1813.west) -| (pj4) -- (pj5);
  \draw[ln] (pc1848) |- (pj6);
  \draw[ln] (pe1782) -- (pe1922);
  \draw[ln] (pe1782.south -| pj8) -- (pj8) -- (pf1813);
  \draw[ln] (pe1813) -- (pf1813);
  \draw[ln] (pe1782) -- (pj7 |- pe1782) -- (pj7) -| (pe1885);
\end{pgfonlayer}
\end{scope}

% rotated side labels
\node[sidetxt] (lb1) at (841,43) {Phase in SBB};
\node[sidetxt] (lb2) at (863,49) {Project in SBB};
\node[sidetxt] (lb3) at (860,262) {Specification Analysis and Design Phase};
\node[sidetxt] (lb4) at (839,447) {Development Phase};
\node[sidetxt] (lb5) at (852,437) {Study};
\node[sidetxt] (lb6) at (965,642) {SBB};
\node[sidetxt] (lb7) at (964,762) {Final Review in SBB};
\node[sidetxt] (lb8) at (965,875) {Development and Evaluation Phase};

% big markers
\foreach \n/\x/\y in {1/832/73,2/935/71,3/1112/71,4/1453/67,5/1796/65,6/1825/245,7/1032/305,8/796/410,9/516/437,10/932/580,11/645/626,12/841/756,13/1707/756}
  \node[warn] (w\n) at (\x,\y) {I};
\coordinate (t1) at (871,163);
\coordinate (t2) at (974,162);
\coordinate (t3) at (1151,161);
\coordinate (t4) at (1493,158);
\coordinate (t5) at (1650,159);
\coordinate (t6) at (1679,340);
\coordinate (t7) at (1095,395);
\coordinate (t8) at (858,500);
\coordinate (t9) at (555,529);
\coordinate (t10) at (967,480);
\coordinate (t11) at (499,722);
\coordinate (t12) at (696,851);
\coordinate (t13) at (1651,683);
\foreach \n in {1,2,3,4,5,6,7,8,9,11,12}
  \draw[bigarrow] (w\n.south) -- (t\n);
\foreach \n in {10,13}
  \draw[bigarrow] (w\n.north) -- (t\n);
\end{tikzpicture}
\end{document}
